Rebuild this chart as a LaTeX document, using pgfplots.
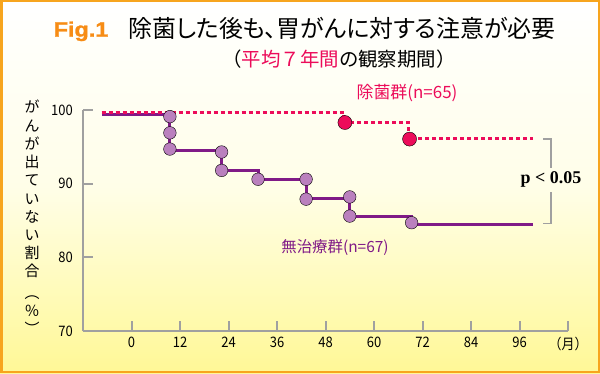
\documentclass[border=0pt]{standalone}
\usepackage{pgfplots}
\pgfplotsset{compat=1.18}
\usepackage{fontspec}
\setmainfont{Noto Sans CJK JP}
\newfontfamily\jpp{Noto Sans CJK JP}[RawFeature=+palt]
\newfontfamily\numfont{Noto Sans CJK JP}[FakeStretch=0.9]
\newfontfamily\figfont{Liberation Sans}[FakeStretch=1.12, FakeBold=1.2]
\newfontfamily\pfont{Liberation Serif}
\definecolor{pinkc}{RGB}{236,12,90}
\definecolor{purpc}{RGB}{128,26,135}
\definecolor{purpm}{RGB}{186,128,190}
\definecolor{orangec}{RGB}{247,140,20}
\definecolor{borderc}{RGB}{247,165,30}
\definecolor{axisc}{RGB}{160,160,160}
\definecolor{bgbot}{RGB}{255,248,150}
\definecolor{bgmid}{RGB}{255,254,232}
\begin{document}
\begin{tikzpicture}[x=1bp,y=1bp]
\shade[top color=white, bottom color=bgbot, middle color=bgmid] (0,0) rectangle (600,373);
\draw[borderc, line width=2.5bp] (1.25,1.25) rectangle (598.75,371.75);
\useasboundingbox (0,0) rectangle (600,373);
\begin{axis}[at={(83bp,42bp)}, anchor=south west, width=485bp, height=221bp, scale only axis,
  xmin=-12, xmax=108, ymin=70, ymax=100,
  axis x line=bottom, axis y line=left,
  axis line style={-, draw=axisc, line width=2bp},
  tick style={draw=axisc, line width=2bp},
  tick align=inside, major tick length=10bp,
  xtick={0,12,24,36,48,60,72,84,96,108},
  xticklabels={0,12,24,36,48,60,72,84,96,（月）},
  ytick={70,80,90,100}, yticklabels={70,80,90,100},
  ticklabel style={font=\numfont\fontsize{14.5}{15}\selectfont, text=black},
  xticklabel style={inner sep=0pt, anchor=north, yshift=-6bp},
  yticklabel style={inner sep=0pt, anchor=east, xshift=-10bp},
  clip=false]
\addplot[const plot, purpc, line width=3bp] coordinates {(-7.4,99.45) (9.5,94.55) (22.3,91.75) (31.3,90.6) (43.2,88.0) (54.0,85.6) (69.3,84.4) (99.3,84.4)};
\addplot[const plot, pinkc, line width=3bp, dash pattern=on 4bp off 3bp] coordinates {(-7.4,99.7) (52.5,98.3) (68.5,96.1) (99.3,96.1)};
\addplot[only marks, mark=*, mark size=6.3bp, mark options={fill=purpm, draw=none}] coordinates {(9.5,99.1) (9.5,96.9) (9.5,94.7) (22.3,94.3) (22.3,91.8) (31.3,90.6) (43.2,90.6) (43.2,87.9) (54.0,88.2) (54.0,85.6) (69.3,84.7)};
\addplot[only marks, mark=*, mark size=7bp, mark options={fill=pinkc, draw=none}] coordinates {(52.8,98.3) (68.8,96.05)};
\end{axis}
% titles
\node[anchor=base west, inner sep=0pt, text=orangec, font=\figfont\bfseries\fontsize{21}{21}\selectfont] at (53.5,336.3) {Fig.1};
\node[anchor=base west, inner sep=0pt, font=\jpp\fontsize{24}{24}\selectfont] at (128,335.5) {除菌した後も、胃がんに対する注意が必要};
\node[inner sep=0pt, font=\fontsize{19.5}{19.5}\selectfont] at (339,314) {（\textcolor{pinkc}{平均７年間}の観察期間）};
% y label
\node[inner sep=0pt, align=center, anchor=north, font=\fontsize{15}{18.3}\selectfont] at (32,273) {が\\ん\\が\\出\\て\\い\\な\\い\\割\\合\\[3bp]︵\\％\\︶};
% series labels
\node[inner sep=0pt, text=pinkc, font=\fontsize{17}{17}\selectfont] at (407,280) {除菌群(n=65)};
\node[inner sep=0pt, text=purpc, font=\fontsize{15.5}{15.5}\selectfont] at (335,125.5) {無治療群(n=67)};
% bracket
\draw[axisc, line width=1.5bp] (543,234) -- (551,234) -- (551,205);
\draw[axisc, line width=1.5bp] (551,181) -- (551,149.7) -- (543,149.7);
\node[inner sep=0pt, font=\pfont\bfseries\fontsize{18}{18}\selectfont] at (551,194) {p < 0.05};
\end{tikzpicture}
\end{document}
